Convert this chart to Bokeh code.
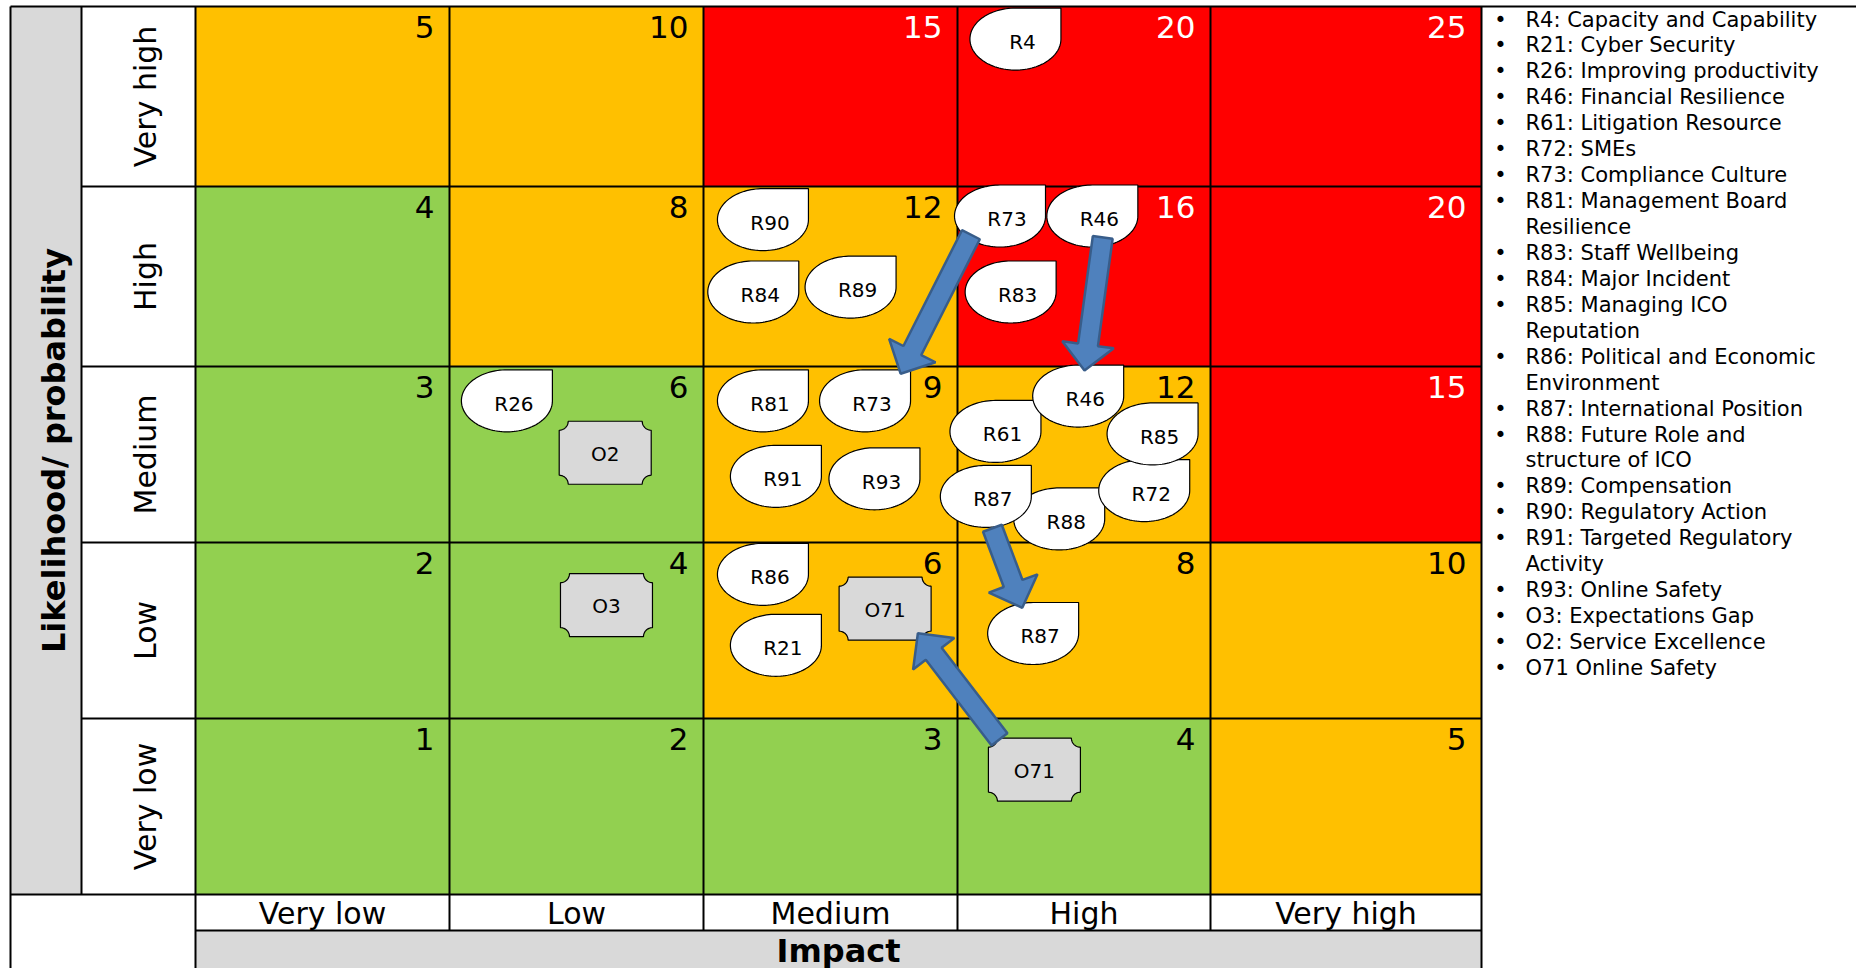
import math
from bokeh.plotting import figure
from bokeh.models import Range1d
from bokeh.core.properties import value
from bokeh.embed import file_html
from bokeh.resources import INLINE

# ---------------- data ----------------
IMPACT_LABELS = ["Very low", "Low", "Medium", "High", "Very high"]
LIKELIHOOD_LABELS = ["Very high", "High", "Medium", "Low", "Very low"]   # top -> bottom
LIKELIHOOD_LEVELS = [5, 4, 3, 2, 1]

SCORES = [
    [5, 10, 15, 20, 25],
    [4, 8, 12, 16, 20],
    [3, 6, 9, 12, 15],
    [2, 4, 6, 8, 10],
    [1, 2, 3, 4, 5],
]
BANDS = [
    ["amber", "amber", "red", "red", "red"],
    ["green", "amber", "amber", "red", "red"],
    ["green", "green", "amber", "amber", "red"],
    ["green", "green", "amber", "amber", "amber"],
    ["green", "green", "green", "green", "amber"],
]

marker_labels = ["R4", "R90", "R84", "R89", "R73", "R46", "R83", "R26", "O2", "R81", "R73",
                 "R91", "R93", "R88", "R87", "R72", "R85", "R61", "R46", "O3", "R86", "R21",
                 "O71", "R87", "O71"]
marker_impact = [4, 3, 3, 3, 4, 4, 4, 2, 2, 3, 3, 3, 3, 4, 4, 4, 4, 4, 4, 2, 3, 3, 3, 4, 4]
marker_likelihood = [5, 4, 4, 4, 4, 4, 4, 3, 3, 3, 3, 3, 3, 3, 3, 3, 3, 3, 3, 2, 2, 2, 2, 2, 1]
marker_fx = [0.229, 0.234, 0.196, 0.579, 0.168, 0.533, 0.210, 0.226, 0.613, 0.234, 0.636,
             0.285, 0.673, 0.402, 0.112, 0.738, 0.771, 0.150, 0.477, 0.618, 0.234, 0.285,
             0.715, 0.299, 0.304]
marker_fy = [0.181, 0.184, 0.586, 0.559, 0.164, 0.164, 0.586, 0.195, 0.490, 0.195, 0.195,
             0.624, 0.638, 0.866, 0.738, 0.705, 0.383, 0.369, 0.168, 0.356, 0.181, 0.584,
             0.376, 0.517, 0.291]

arrow_from_impact = [4, 4, 4, 4]
arrow_from_likelihood = [4, 4, 3, 1]
arrow_from_fx = [0.053, 0.574, 0.138, 0.166]
arrow_from_fy = [0.268, 0.283, 0.919, 0.119]
arrow_to_impact = [3, 4, 4, 3]
arrow_to_likelihood = [3, 3, 2, 2]
arrow_to_fx = [0.776, 0.502, 0.256, 0.844]
arrow_to_fy = [0.041, 0.023, 0.371, 0.515]

LEGEND_ITEMS = [
    "R4: Capacity and Capability",
    "R21: Cyber Security",
    "R26: Improving productivity",
    "R46: Financial Resilience",
    "R61: Litigation Resource",
    "R72: SMEs",
    "R73: Compliance Culture",
    "R81: Management Board\nResilience",
    "R83: Staff Wellbeing",
    "R84: Major Incident",
    "R85: Managing ICO\nReputation",
    "R86: Political and Economic\nEnvironment",
    "R87: International Position",
    "R88: Future Role and\nstructure of ICO",
    "R89: Compensation",
    "R90: Regulatory Action",
    "R91: Targeted Regulatory\nActivity",
    "R93: Online Safety",
    "O3: Expectations Gap",
    "O2: Service Excellence",
    "O71 Online Safety",
]

# ---------------- layout / style ----------------
W, H = 1856, 968
COL_EDGES = [195, 449, 703, 957, 1210, 1481]
ROW_EDGES = [6, 186, 366, 542, 718, 894]
LEFT = 10
TITLE_COL = 81
LABEL_ROW_BOTTOM = 930
BAND_COLORS = {"green": "#92D050", "amber": "#FFC000", "red": "#FF0000"}
GRAY = "#D9D9D9"
FONT = "DejaVu Sans"


def cell_box(impact, likelihood):
    c = impact - 1
    r = LIKELIHOOD_LEVELS.index(likelihood)
    return COL_EDGES[c], COL_EDGES[c + 1], ROW_EDGES[r], ROW_EDGES[r + 1]


def cell_point(impact, likelihood, fx, fy):
    x0, x1, y0, y1 = cell_box(impact, likelihood)
    return x0 + fx * (x1 - x0), y0 + fy * (y1 - y0)


p = figure(width=W, height=H, x_range=Range1d(0, W), y_range=Range1d(H, 0),
           output_backend="svg", toolbar_location=None, min_border=0,
           x_axis_location=None, y_axis_location=None)
p.grid.visible = False
p.outline_line_color = None
p.background_fill_color = "white"
p.border_fill_color = "white"

# background blocks
p.quad(left=[LEFT, COL_EDGES[0]], right=[TITLE_COL, COL_EDGES[-1]],
       top=[ROW_EDGES[0], LABEL_ROW_BOTTOM], bottom=[ROW_EDGES[-1], H + 5],
       fill_color=GRAY, line_color=None)

# matrix cells
cl, cr, ct, cb, cc, nx, ny, nt, ncol = [], [], [], [], [], [], [], [], []
for r, lik in enumerate(LIKELIHOOD_LEVELS):
    for c in range(5):
        x0, x1, y0, y1 = cell_box(c + 1, lik)
        cl.append(x0); cr.append(x1); ct.append(y0); cb.append(y1)
        band = BANDS[r][c]
        cc.append(BAND_COLORS[band])
        nx.append(x1 - 15); ny.append(y0 + 20)
        nt.append(str(SCORES[r][c]))
        ncol.append("white" if band == "red" else "black")
p.quad(left=cl, right=cr, top=ct, bottom=cb, fill_color=cc, line_color=None)
p.text(x=nx, y=ny, text=nt, text_color=ncol, text_font=value(FONT),
       text_font_size="31px", text_align="right", text_baseline="middle")

# table lines
sx0, sy0, sx1, sy1 = [], [], [], []
def seg(a, b, c, d):
    sx0.append(a); sy0.append(b); sx1.append(c); sy1.append(d)

seg(LEFT, ROW_EDGES[0], W, ROW_EDGES[0])
for y in ROW_EDGES[1:-1]:
    seg(TITLE_COL, y, COL_EDGES[-1], y)
seg(LEFT, ROW_EDGES[-1], COL_EDGES[-1], ROW_EDGES[-1])
seg(COL_EDGES[0], LABEL_ROW_BOTTOM, COL_EDGES[-1], LABEL_ROW_BOTTOM)
seg(LEFT, ROW_EDGES[0], LEFT, H + 5)
seg(TITLE_COL, ROW_EDGES[0], TITLE_COL, ROW_EDGES[-1])
seg(COL_EDGES[0], ROW_EDGES[0], COL_EDGES[0], H + 5)
for x in COL_EDGES[1:-1]:
    seg(x, ROW_EDGES[0], x, LABEL_ROW_BOTTOM)
seg(COL_EDGES[-1], ROW_EDGES[0], COL_EDGES[-1], H + 5)
p.segment(x0=sx0, y0=sy0, x1=sx1, y1=sy1, line_color="black", line_width=2)

# row labels (rotated)
row_y = [(ROW_EDGES[i] + ROW_EDGES[i + 1]) / 2 for i in range(5)]
p.text(x=[145] * 5, y=row_y, text=LIKELIHOOD_LABELS, angle=math.pi / 2,
       text_font=value(FONT), text_font_size="30px", text_align="center",
       text_baseline="middle", text_color="black")
# column labels
col_x = [(COL_EDGES[i] + COL_EDGES[i + 1]) / 2 for i in range(5)]
p.text(x=col_x, y=[913] * 5, text=IMPACT_LABELS, text_font=value(FONT),
       text_font_size="30px", text_align="center", text_baseline="middle",
       text_color="black")
# axis titles
p.text(x=[53], y=[(ROW_EDGES[0] + ROW_EDGES[-1]) / 2], text=["Likelihood/ probability"],
       angle=math.pi / 2, text_font=value(FONT), text_font_size="32px",
       text_font_style="bold", text_align="center", text_baseline="middle")
p.text(x=[(COL_EDGES[0] + COL_EDGES[-1]) / 2], y=[950], text=["Impact"],
       text_font=value(FONT), text_font_size="32px", text_font_style="bold",
       text_align="center", text_baseline="middle")

# markers
TA, TB = 45.5, 31.0
tear_xs, tear_ys, plq_xs, plq_ys = [], [], [], []
tx, ty, tt = [], [], []
for lab, im, lk, fx, fy in zip(marker_labels, marker_impact, marker_likelihood, marker_fx, marker_fy):
    cx, cy = cell_point(im, lk, fx, fy)
    if lab.startswith("R"):
        xs, ys = [], []
        for k in range(0, 91):
            t = math.radians(90 + 3 * k)
            xs.append(cx + TA * math.cos(t)); ys.append(cy - TB * math.sin(t))
        xs.append(cx + TA); ys.append(cy - TB)
        tear_xs.append(xs); tear_ys.append(ys)
        tx.append(cx + 7); ty.append(cy + 3)
    else:
        x0, x1, y0, y1 = cx - 46, cx + 46, cy - 31.5, cy + 31.5
        rr = 9
        xs, ys = [], []
        seq = [((x1, y0), [(-1, 0), (0, 1)]), ((x1, y1), [(0, -1), (-1, 0)]),
               ((x0, y1), [(1, 0), (0, -1)]), ((x0, y0), [(0, 1), (1, 0)])]
        for (px, py), (d0, d1) in seq:
            for k in range(0, 13):
                th = math.radians(90 * k / 12)
                vx = d0[0] * math.cos(th) + d1[0] * math.sin(th)
                vy = d0[1] * math.cos(th) + d1[1] * math.sin(th)
                xs.append(px + rr * vx); ys.append(py + rr * vy)
        plq_xs.append(xs); plq_ys.append(ys)
        tx.append(cx); ty.append(cy + 1)
    tt.append(lab)

p.patches(xs=tear_xs, ys=tear_ys, fill_color="white", line_color="black", line_width=1.2)
p.patches(xs=plq_xs, ys=plq_ys, fill_color=GRAY, line_color="black", line_width=1.2)
p.text(x=tx, y=ty, text=tt, text_font=value(FONT), text_font_size="20px",
       text_align="center", text_baseline="middle", text_color="black")

# arrows
SHAFT, HEADW, HEADL = 10, 26, 26
axs, ays = [], []
for i in range(len(arrow_from_impact)):
    tx0, ty0 = cell_point(arrow_from_impact[i], arrow_from_likelihood[i], arrow_from_fx[i], arrow_from_fy[i])
    hx, hy = cell_point(arrow_to_impact[i], arrow_to_likelihood[i], arrow_to_fx[i], arrow_to_fy[i])
    L = math.hypot(hx - tx0, hy - ty0)
    ux, uy = (hx - tx0) / L, (hy - ty0) / L
    nxv, nyv = -uy, ux
    bx, by = hx - HEADL * ux, hy - HEADL * uy
    xs = [tx0 + nxv * SHAFT, bx + nxv * SHAFT, bx + nxv * HEADW, hx,
          bx - nxv * HEADW, bx - nxv * SHAFT, tx0 - nxv * SHAFT]
    ys = [ty0 + nyv * SHAFT, by + nyv * SHAFT, by + nyv * HEADW, hy,
          by - nyv * HEADW, by - nyv * SHAFT, ty0 - nyv * SHAFT]
    axs.append(xs); ays.append(ys)
p.patches(xs=axs, ys=ays, fill_color="#4F81BD", line_color="#385D8A", line_width=2.5)

# legend list
lx, ly, lt, bx_, by_ = [], [], [], [], []
row = 0
for item in LEGEND_ITEMS:
    lines = item.split("\n")
    bx_.append(1500); by_.append(19 + 25.94 * row)
    for ln in lines:
        lx.append(1525); ly.append(19 + 25.94 * row); lt.append(ln)
        row += 1
p.text(x=lx, y=ly, text=lt, text_font=value(FONT), text_font_size="21px",
       text_align="left", text_baseline="middle", text_color="black")
p.text(x=bx_, y=by_, text=["\u2022"] * len(bx_), text_font=value(FONT), text_font_size="21px",
       text_align="center", text_baseline="middle", text_color="black")

open("out.html", "w").write(file_html(p, INLINE))
